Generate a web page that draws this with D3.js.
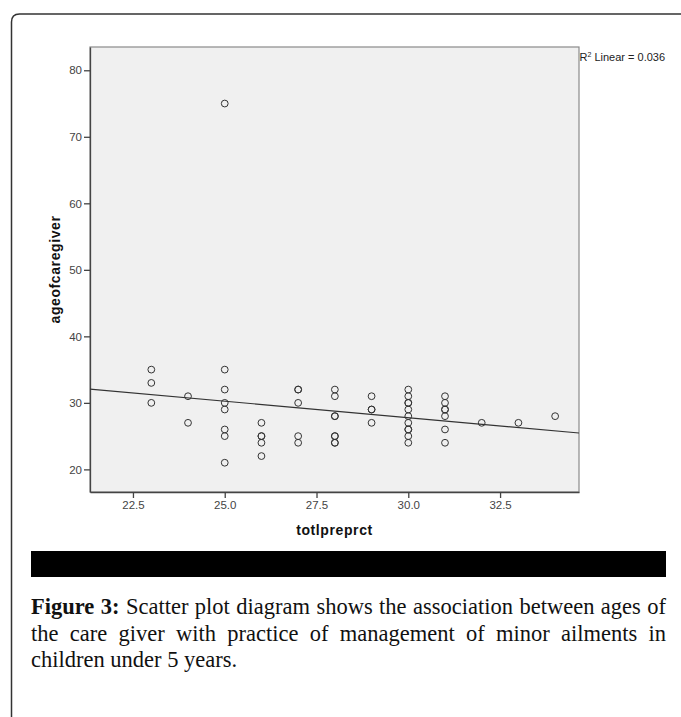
<!DOCTYPE html>
<html>
<head>
<meta charset="utf-8">
<script src="https://cdn.jsdelivr.net/npm/d3@7"></script>
<style>
  body { margin: 0; background: #fff; }
  #wrap { position: relative; width: 681px; height: 717px; overflow: hidden; }
  svg { position: absolute; left: 0; top: 0; }
  #caption { position: absolute; left: 31px; top: 594px; width: 635px;
    font-family: "Liberation Serif", "Times New Roman", serif; font-size: 22.5px;
    line-height: 26.5px; color: #111; }
  #caption .ln { white-space: nowrap; }
  #caption .just { text-align: justify; text-align-last: justify; white-space: normal; }
</style>
</head>
<body>
<div id="wrap">
  <div id="chart"></div>
  <div id="caption"></div>
</div>
<script>
// totlpreprct (x) and ageofcaregiver (y), one entry per respondent
const totlpreprct = [
  23, 23, 23,
  24, 24,
  25, 25, 25, 25, 25, 25, 25, 25,
  26, 26, 26, 26, 26,
  27, 27, 27, 27, 27,
  28, 28, 28, 28, 28, 28, 28, 28,
  29, 29, 29, 29,
  30, 30, 30, 30, 30, 30, 30, 30, 30, 30, 30,
  31, 31, 31, 31, 31, 31, 31,
  32, 33, 34
];
const ageofcaregiver = [
  35, 33, 30,
  31, 27,
  75, 35, 32, 30, 29, 26, 25, 21,
  27, 25, 25, 24, 22,
  32, 32, 30, 25, 24,
  32, 31, 28, 28, 25, 25, 24, 24,
  31, 29, 29, 27,
  32, 31, 30, 30, 29, 28, 27, 26, 26, 25, 24,
  31, 30, 29, 29, 28, 26, 24,
  27, 27, 28
];
const xTicks = [22.5, 25.0, 27.5, 30.0, 32.5];
const yTicks = [20, 30, 40, 50, 60, 70, 80];
// linear fit line as shown
const fitIntercept = 42.65;
const fitSlope = -0.496;
const r2Label = "0.036";
const captionLines = [
  "Scatter plot diagram shows the association between ages of",
  "the care giver with practice of management of minor ailments in",
  "children under 5 years."
];

const W = 681, H = 717;
const plot = { left: 90, right: 579, top: 47, bottom: 492 };
const sans = '"Liberation Sans", Arial, sans-serif';

const svg = d3.select("#chart").append("svg")
  .attr("width", W)
  .attr("height", H);

// outer frame (rounded top-left corner)
svg.append("path")
  .attr("d", "M11.5,730 L11.5,22 Q11.5,14 19.5,14 L700,14")
  .attr("fill", "none")
  .attr("stroke", "#333")
  .attr("stroke-width", 1.5);

const x = d3.scaleLinear().domain([21.33, 34.65]).range([plot.left, plot.right]);
const y = d3.scaleLinear().domain([16.6, 83.5]).range([plot.bottom, plot.top]);

// plot background
svg.append("rect")
  .attr("x", plot.left)
  .attr("y", plot.top)
  .attr("width", plot.right - plot.left)
  .attr("height", plot.bottom - plot.top)
  .attr("fill", "#f0f0f0")
  .attr("stroke", "#8a8a8a")
  .attr("stroke-width", 1.2);

// axes
const yAxis = svg.append("g")
  .attr("transform", "translate(" + plot.left + ",0)")
  .call(d3.axisLeft(y).tickValues(yTicks).tickSize(6).tickSizeOuter(0).tickPadding(2)
    .tickFormat(d3.format("d")));
const xAxis = svg.append("g")
  .attr("transform", "translate(0," + plot.bottom + ")")
  .call(d3.axisBottom(x).tickValues(xTicks).tickSize(6).tickSizeOuter(0).tickPadding(3)
    .tickFormat(d3.format(".1f")));

[yAxis, xAxis].forEach(g => {
  g.select(".domain").attr("stroke", "#444").attr("stroke-width", 1.3);
  g.selectAll(".tick line").attr("stroke", "#444").attr("stroke-width", 1.3);
  g.selectAll(".tick text")
    .attr("fill", "#444")
    .style("font-family", sans)
    .style("font-size", "11.5px");
});

// axis titles
svg.append("text")
  .attr("x", (plot.left + plot.right) / 2)
  .attr("y", 535)
  .attr("text-anchor", "middle")
  .style("font-family", sans)
  .style("font-weight", "bold")
  .style("font-size", "14px")
  .style("letter-spacing", "0.6px")
  .attr("fill", "#111")
  .text("totlpreprct");

svg.append("text")
  .attr("transform", "translate(60," + (plot.top + plot.bottom) / 2 + ") rotate(-90)")
  .attr("text-anchor", "middle")
  .style("font-family", sans)
  .style("font-weight", "bold")
  .style("font-size", "14px")
  .style("letter-spacing", "0.6px")
  .attr("fill", "#111")
  .text("ageofcaregiver");

// fit line
svg.append("clipPath").attr("id", "plotclip")
  .append("rect")
  .attr("x", plot.left).attr("y", plot.top)
  .attr("width", plot.right - plot.left).attr("height", plot.bottom - plot.top);

const xd = x.domain();
svg.append("line")
  .attr("clip-path", "url(#plotclip)")
  .attr("x1", x(xd[0])).attr("y1", y(fitIntercept + fitSlope * xd[0]))
  .attr("x2", x(xd[1])).attr("y2", y(fitIntercept + fitSlope * xd[1]))
  .attr("stroke", "#333")
  .attr("stroke-width", 1.1);

// points
svg.append("g")
  .selectAll("circle")
  .data(totlpreprct.map((v, i) => ({ x: v, y: ageofcaregiver[i] })))
  .enter()
  .append("circle")
  .attr("cx", d => x(d.x))
  .attr("cy", d => y(d.y))
  .attr("r", 3.4)
  .attr("fill", "none")
  .attr("stroke", "#333")
  .attr("stroke-width", 1);

// R squared label
const r2 = svg.append("text")
  .attr("x", plot.right + 0.5)
  .attr("y", 60.5)
  .style("font-family", sans)
  .style("font-size", "11px")
  .attr("fill", "#222");
r2.append("tspan").text("R");
r2.append("tspan").attr("dy", -4).style("font-size", "7px").text("2");
r2.append("tspan").attr("dy", 4).text(" Linear = " + r2Label);

// black band
svg.append("rect")
  .attr("x", 31).attr("y", 551)
  .attr("width", 635).attr("height", 26)
  .attr("fill", "#000");

// caption
const cap = d3.select("#caption");
const l1 = cap.append("div").attr("class", "ln just");
l1.append("b").text("Figure 3:");
l1.append("span").text(" " + captionLines[0]);
cap.append("div").attr("class", "ln just").text(captionLines[1]);
cap.append("div").attr("class", "ln").text(captionLines[2]);
</script>
</body>
</html>
